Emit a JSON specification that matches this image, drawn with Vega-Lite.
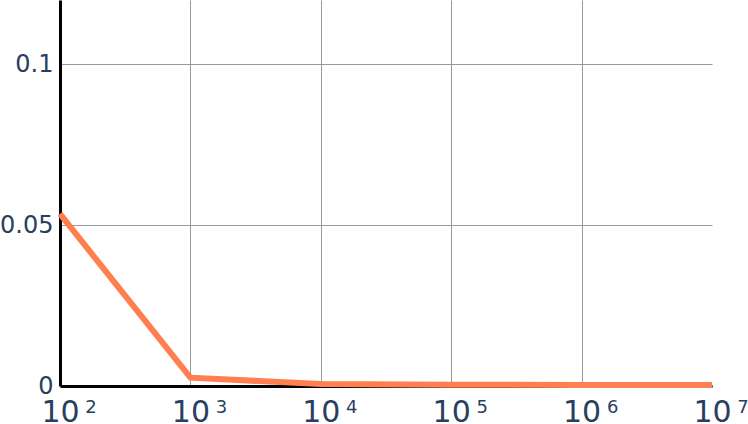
{
  "$schema": "https://vega.github.io/schema/vega-lite/v6.json",
  "autosize": {"type": "none"},
  "width": 652,
  "height": 386,
  "padding": {"left": 60, "top": 0, "right": 36, "bottom": 38},
  "background": "white",
  "config": {"view": {"stroke": null}, "font": "DejaVu Sans", "axis": {"labelFont": "DejaVu Sans"}},
  "data": {"values": [
    {"n": 100, "v": 0.0535, "e": "2"},
    {"n": 1000, "v": 0.0026, "e": "3"},
    {"n": 10000, "v": 0.0006, "e": "4"},
    {"n": 100000, "v": 0.0004, "e": "5"},
    {"n": 1000000, "v": 0.0003, "e": "6"},
    {"n": 10000000, "v": 0.0003, "e": "7"}
  ]},
  "layer": [
    {
      "mark": {"type": "line", "color": "#ff7f50", "strokeWidth": 6, "clip": false},
      "encoding": {
        "x": {"field": "n", "type": "quantitative",
          "scale": {"type": "log", "domain": [100, 10000000], "nice": false},
          "axis": {"orient": "bottom", "title": null, "values": [100, 1000, 10000, 100000, 1000000, 10000000],
            "labelExpr": "'10'", "labelFontSize": 30, "labelColor": "#2a3f5f", "labelDx": -7, "labelPadding": 11,
            "labelFlush": false, "labelOverlap": false, "labelBound": false,
            "ticks": false, "domainColor": "black", "domainWidth": 3,
            "grid": true, "gridColor": {"condition": {"test": "datum.value > 5000000 || datum.value < 200", "value": "transparent"}, "value": "#999999"}, "gridWidth": 1}},
        "y": {"field": "v", "type": "quantitative",
          "scale": {"domain": [0, 0.12], "nice": false, "zero": true},
          "axis": {"title": null, "values": [0, 0.05, 0.1], "format": ".2~f",
            "labelFontSize": 24, "labelColor": "#2a3f5f", "labelPadding": 7,
            "ticks": false, "domainColor": "black", "domainWidth": 3,
            "grid": true, "gridColor": "#999999", "gridWidth": 1}}
      }
    },
    {
      "mark": {"type": "text", "fontSize": 18, "font": "DejaVu Sans", "color": "#2a3f5f", "baseline": "top", "align": "center", "dx": 31, "dy": 13, "clip": false},
      "encoding": {
        "x": {"field": "n", "type": "quantitative"},
        "y": {"datum": 0, "type": "quantitative"},
        "text": {"field": "e"}
      }
    }
  ]
}
